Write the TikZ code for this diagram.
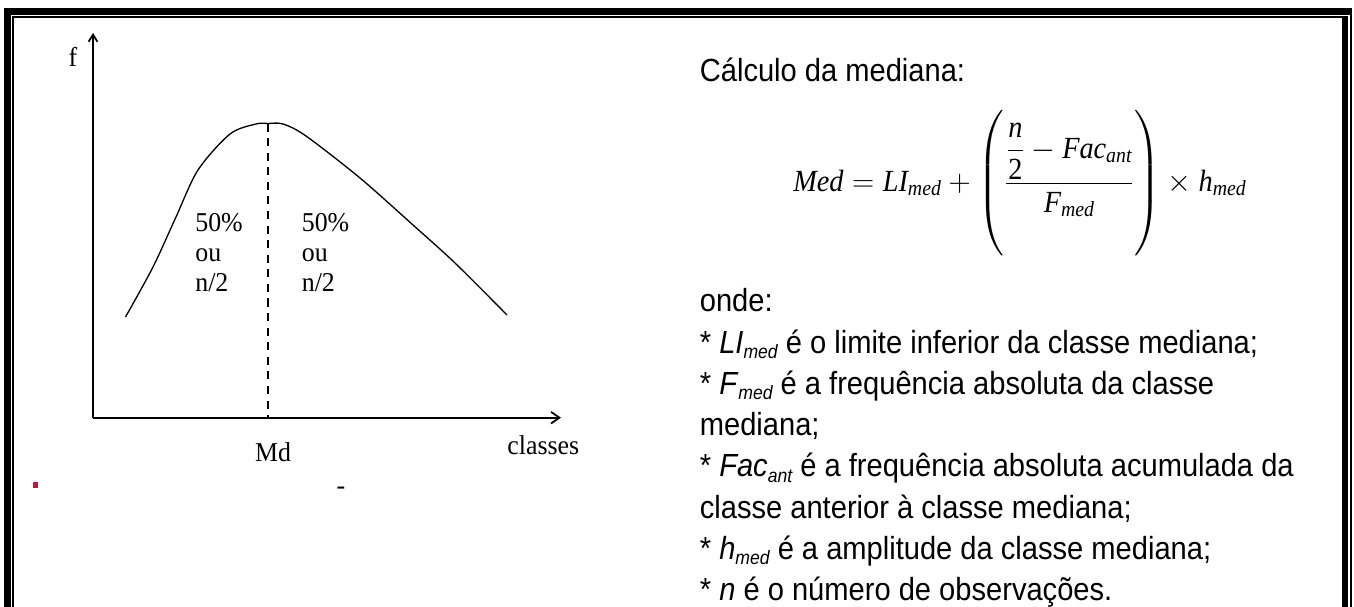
\RequirePackage{fix-cm}
\documentclass[tikz,border=0pt]{standalone}
\usepackage{amsmath}
\usepackage{fontspec}
\usepackage{tikz}
\usetikzlibrary{arrows.meta}
\newfontfamily\arl[FakeStretch=0.91]{Liberation Sans}
\newfontfamily\tms[FakeStretch=0.95]{Liberation Serif}
\newfontfamily\frm[FakeStretch=0.92]{Liberation Serif}
\definecolor{dotred}{HTML}{B0203A}
\newcommand{\fv}[1]{\text{\frm\itshape #1}}
\newcommand{\fn}[1]{\text{\frm #1}}
\newcommand{\sbs}[1]{\raisebox{-3pt}{\fontsize{11}{11}\selectfont\itshape #1}}

\begin{document}
\begin{tikzpicture}[x=0.02cm, y=-0.02cm,
  axis/.style={line width=1pt, -{Straight Barb[length=4.8pt, width=6.6pt]}},
  crv/.style={line width=0.75pt},
  grlbl/.style={font=\tms\fontsize{15.5}{17}\selectfont, inner sep=0pt},
  txtline/.style={font=\arl\fontsize{18.2}{23.7}\selectfont, inner sep=0pt, anchor=base west},
  formula/.style={font=\fontsize{17.5}{20}\selectfont, inner sep=0pt}]
  \useasboundingbox (0,0) rectangle (1354,607);
  % page border
  \fill (4,8.5) rectangle (10.5,607);
  \fill (4,8.5) rectangle (1351.5,15);
  \fill (1349.5,8.5) rectangle (1351.5,607);
  \fill (12,16) rectangle (14,607);
  \fill (12,16) rectangle (1348,18);
  \fill (1342,16) rectangle (1348,607);

  % graph
  \coordinate (o) at (93,417.7);
  \coordinate (ytop) at (93,33);
  \coordinate (xend) at (561,417.7);
  \coordinate (pk) at (268,123.5);
  \coordinate (md) at (268,417.7);
  \draw[axis, -{Straight Barb[length=4pt, width=5pt]}] (o) -- (ytop);
  \draw[axis] (o) -- (xend);
  \draw[crv] plot[smooth, tension=0.5] coordinates {(125.5,317) (153,267) (176,217)
    (198,170) (230,134) (256,124) (pk) (283,124) (306,136) (360,178) (413,225)
    (455,263) (507,315)};
  \draw[line width=0.85pt, dash pattern=on 4.6pt off 3.7pt] (pk) -- (md);
  \node[grlbl, anchor=base] (flbl) at (73,67) {f};
  \foreach \xx/\nm in {195/lf, 301.5/rt} {
    \node[grlbl, anchor=base west] (\nm a) at (\xx,232) {50\%};
    \node[grlbl, anchor=base west] (\nm b) at (\xx,262) {ou};
    \node[grlbl, anchor=base west] (\nm c) at (\xx,292) {n/2};
  }
  \node[grlbl, anchor=base] (mdlbl) at (273,461) {Md};
  \node[grlbl, anchor=base west] (cls) at (507,454.5) {classes};
  \node[grlbl, anchor=base] (dsh) at (341,494.5) {-};
  \fill[dotred] (32.5,481.5) rectangle (38,487.5);

  % text on the right
  \node[txtline] (calc) at (699.5,82) {Cálculo da mediana:};
  \node[formula, anchor=west] (med) at (793,185) {$\displaystyle \fv{Med} = \fv{LI}_{\fv{med}} +
    \left(\rule[-39pt]{0pt}{85pt}\dfrac{\dfrac{\fv{n}}{\fn{2}} - \fv{Fac}_{\fv{ant}}}{\fv{F}_{\fv{med}}}\right)
    \times \fv{h}_{\fv{med}}$};
  \foreach \t [count=\i] in {{onde:},
    {* \textit{LI}\sbs{med} é o limite inferior da classe mediana;},
    {* \textit{F}\sbs{med} é a frequência absoluta da classe},
    {mediana;},
    {* \textit{Fac}\sbs{ant} é a frequência absoluta acumulada da},
    {classe anterior à classe mediana;},
    {* \textit{h}\sbs{med} é a amplitude da classe mediana;},
    {* \textit{n} é o número de observações.}}
    \node[txtline] (ln\i) at (699.5,{312+41.2*(\i-1)}) {\t};
\end{tikzpicture}
\end{document}
